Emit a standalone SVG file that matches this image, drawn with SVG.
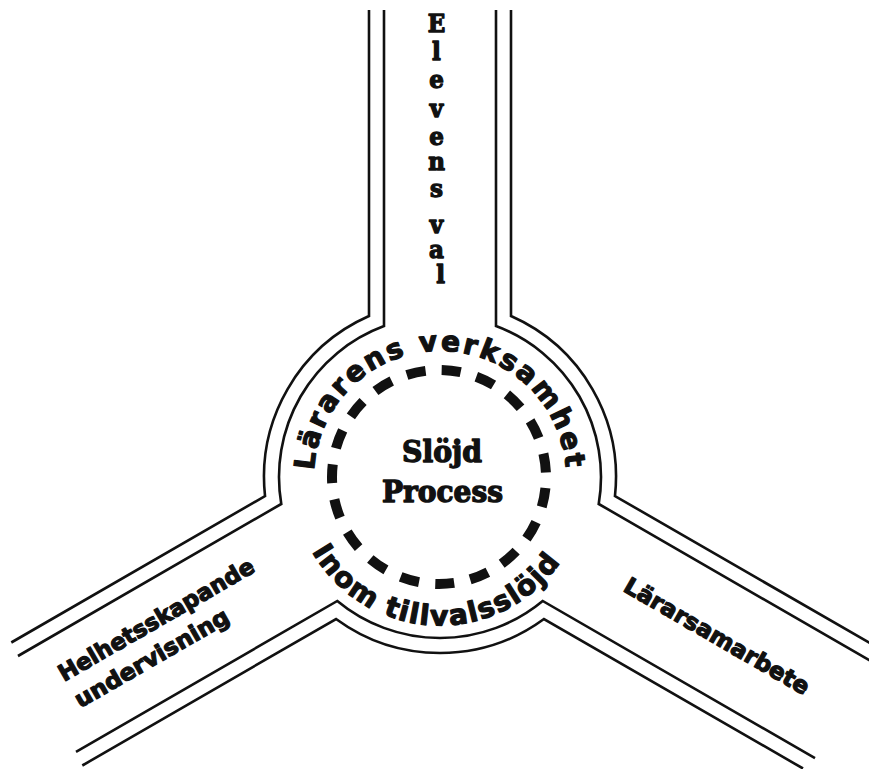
<svg xmlns="http://www.w3.org/2000/svg" xmlns:xlink="http://www.w3.org/1999/xlink" width="869" height="769" viewBox="0 0 869 769">
  <style>
    .edge { fill: none; stroke: #111; stroke-width: 2.6; stroke-linejoin: miter; }
    .dash { fill: none; stroke: #111; stroke-width: 10; stroke-dasharray: 19.1 16.284; stroke-dashoffset: 24.3; }
    .slab { font-family: "DejaVu Serif", "Liberation Serif", serif; font-weight: bold; fill: #111; stroke: #111; stroke-width: 1.4; stroke-linejoin: round; }
    .heavy { font-family: "DejaVu Sans", "Liberation Sans", sans-serif; font-weight: bold; fill: #111; stroke: #111; stroke-width: 1.2; stroke-linejoin: round; }
  </style>
  <defs>
    <path id="topArc" d="M314.17,470.4 A126,126 0 0 1 565.83,470.4"/>
    <path id="bottomArc" d="M312,551.5 A147,147 0 0 0 562.5,559.2"/>
  </defs>
  <rect width="869" height="769" fill="#ffffff"/>

  <g id="connectors">
    <path id="outer-outline" class="edge" d="M369,10 L369,316.04 A176,176 0 0 0 265.04,496.03 L11.3,642.5 M82.3,765.5 L336.04,619.01 A176,176 0 0 0 543.96,619.01 L803,768.5 M874,645.5 L614.96,496.03 A176,176 0 0 0 511,316.04 L511,10"/>
    <path id="inner-outline" class="edge" d="M384,10 L384,326.05 A161,161 0 0 0 281.28,503.97 L17.97,656 M76,751.8 L337.28,600.97 A161,161 0 0 0 542.72,600.97 L815,758.2 M875,663.5 L598.72,503.97 A161,161 0 0 0 496,326.05 L496,10"/>
  </g>

  <g id="center">
    <circle class="dash" cx="439" cy="477" r="107"/>
    <text class="slab" x="442" y="462" font-size="30" text-anchor="middle" textLength="80" lengthAdjust="spacingAndGlyphs">Slöjd</text>
    <text class="slab" x="442.5" y="502" font-size="30" text-anchor="middle" textLength="121" lengthAdjust="spacingAndGlyphs">Process</text>
  </g>

  <g id="ring-top">
    <text class="heavy" font-size="28"><textPath xlink:href="#topArc" href="#topArc" textLength="380" lengthAdjust="spacing">Lärarens verksamhet</textPath></text>
  </g>

  <g id="ring-bottom">
    <text class="heavy" font-size="28"><textPath xlink:href="#bottomArc" href="#bottomArc" textLength="296" lengthAdjust="spacing">Inom tillvalsslöjd</textPath></text>
  </g>

  <g id="road-top">
    <text class="slab" font-size="25" text-anchor="middle" transform="translate(440.5,0) scale(0.92,1)">
      <tspan x="0" y="32">E</tspan>
      <tspan x="0" y="60">l</tspan>
      <tspan x="0" y="88">e</tspan>
      <tspan x="0" y="117">v</tspan>
      <tspan x="0" y="145">e</tspan>
      <tspan x="0" y="170">n</tspan>
      <tspan x="0" y="197">s</tspan>
      <tspan x="0" y="233">v</tspan>
      <tspan x="0" y="258">a</tspan>
      <tspan x="0" y="283">l</tspan>
    </text>
  </g>

  <g id="road-left" transform="translate(64,682) rotate(-30)">
    <text class="heavy" font-size="23" x="0" y="0" textLength="222" lengthAdjust="spacingAndGlyphs">Helhetsskapande</text>
    <text class="heavy" font-size="23" x="1" y="31" textLength="174" lengthAdjust="spacingAndGlyphs">undervisning</text>
  </g>

  <g id="road-right">
    <text class="heavy" font-size="23" text-anchor="middle" transform="translate(713,643) rotate(30)" textLength="210" lengthAdjust="spacingAndGlyphs">Lärarsamarbete</text>
  </g>
</svg>
